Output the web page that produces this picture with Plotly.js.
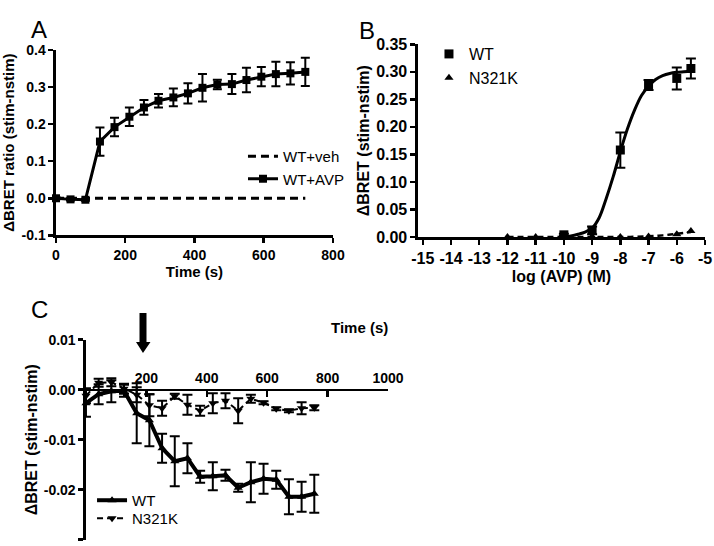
<!DOCTYPE html>
<html><head><meta charset="utf-8">
<script src="https://cdn.plot.ly/plotly-3.0.1.min.js"></script>
<style>html,body{margin:0;padding:0;background:#fff}#chart{width:714px;height:546px}</style>
</head><body><div id="chart"></div>
<script>
// ---------- Panel A ----------
const aTime = [0,42,85,127,169,212,254,296,339,381,423,466,508,550,593,635,677,720];
const aAvp = [0,-0.003,-0.004,0.153,0.192,0.220,0.245,0.263,0.272,0.283,0.298,0.307,0.308,0.319,0.328,0.335,0.337,0.341];
const aAvpErr = [0.003,0.003,0.003,0.038,0.025,0.025,0.020,0.018,0.024,0.027,0.037,0.013,0.027,0.033,0.026,0.033,0.030,0.038];
const aVeh = [0,0,0,0,0,0,0,0,0,0,0,0,0,0,0,0,0,0];
const aXTicks = [0,200,400,600,800];
const aXTickText = ['0','200','400','600','800'];
const aYTicks = [-0.1,0,0.1,0.2,0.3,0.4];
const aYTickText = ['-0.1','0.0','0.1','0.2','0.3','0.4'];

// ---------- Panel B ----------
const bWtX = [-10,-9,-8,-7,-6,-5.5];
const bWtY = [0.004,0.012,0.158,0.276,0.288,0.306];
const bWtErr = [0.002,0.007,0.032,0.009,0.020,0.018];
const bWtFitX = [-10,-9.75,-9.5,-9.25,-9,-8.75,-8.5,-8.25,-8,-7.75,-7.5,-7.25,-7,-6.75,-6.5,-6.25,-6,-5.75,-5.5];
const bWtFitY = [0.000,0.002,0.005,0.009,0.016,0.035,0.070,0.110,0.155,0.196,0.230,0.257,0.274,0.286,0.293,0.297,0.299,0.300,0.301];
const bMutX = [-12,-11,-10,-9,-8,-7,-6,-5.5];
const bMutY = [0,0,0,0.001,0,0.001,0.005,0.011];
const bMutFitX = [-12,-11,-10,-9,-8,-7,-6.5,-6,-5.5];
const bMutFitY = [0,0,0,0,0,0.0012,0.003,0.006,0.009];
const bXTicks = [-15,-14,-13,-12,-11,-10,-9,-8,-7,-6,-5];
const bXTickText = ['-15','-14','-13','-12','-11','-10','-9','-8','-7','-6','-5'];
const bYTicks = [0,0.05,0.10,0.15,0.20,0.25,0.30,0.35];
const bYTickText = ['0.00','0.05','0.10','0.15','0.20','0.25','0.30','0.35'];

// ---------- Panel C ----------
const cTime = [0,42,84,126,168,210,252,294,336,378,420,462,504,546,588,630,672,714,756];
const cWt = [-0.0027,-0.0009,-0.0003,-0.0002,-0.0047,-0.0061,-0.0117,-0.0143,-0.0137,-0.0174,-0.0173,-0.0171,-0.0196,-0.0185,-0.0178,-0.0180,-0.0214,-0.0214,-0.0208];
const cWtErr = [0.0027,0.0020,0.0022,0.0012,0.0060,0.0052,0.0029,0.0050,0.0030,0.0012,0.0028,0.0011,0.0008,0.0040,0.0030,0.0018,0.0035,0.0030,0.0038];
const cMut = [-0.0012,0.0014,0.0015,0.0002,-0.0010,-0.0031,-0.0037,-0.0013,-0.0030,-0.0042,-0.0027,-0.0022,-0.0042,-0.0018,-0.0026,-0.0038,-0.0042,-0.0037,-0.0036];
const cMutErr = [0.0015,0.0008,0.0008,0.0010,0.0015,0.0022,0.0015,0.0005,0.0020,0.0010,0.0020,0.0015,0.0025,0.0008,0.0003,0.0003,0.0003,0.0012,0.0005];
const cXTicks = [200,400,600,800,1000];
const cXTickText = ['200','400','600','800','1000'];
const cYTicks = [-0.03,-0.02,-0.01,0,0.01];
const cYTickText = ['-0.03','-0.02','-0.01','0.00','0.01'];

const FONT = 'Liberation Sans, Arial, sans-serif';
const K = '#000';

const traces = [
  // A
  {x:aTime, y:aVeh, xaxis:'x', yaxis:'y', name:'WT+veh', mode:'lines',
   line:{color:K, width:3, dash:'8px,5px'}, legend:'legend'},
  {x:aTime, y:aAvp, xaxis:'x', yaxis:'y', name:'WT+AVP', mode:'lines+markers',
   line:{color:K, width:3}, marker:{symbol:'square', size:8, color:K},
   error_y:{type:'data', array:aAvpErr, visible:true, color:K, thickness:2, width:4.5},
   legend:'legend', cliponaxis:false},
  // B
  {x:bWtFitX, y:bWtFitY, xaxis:'x2', yaxis:'y2', mode:'lines', line:{color:K, width:3, shape:'spline'},
   showlegend:false, cliponaxis:false},
  {x:bMutFitX, y:bMutFitY, xaxis:'x2', yaxis:'y2', mode:'lines', line:{color:K, width:2.5, dash:'6px,4px', shape:'spline'},
   showlegend:false, cliponaxis:false},
  {x:bWtX, y:bWtY, xaxis:'x2', yaxis:'y2', name:'WT', mode:'markers',
   marker:{symbol:'square', size:9, color:K},
   error_y:{type:'data', array:bWtErr, visible:true, color:K, thickness:2, width:5},
   legend:'legend2', cliponaxis:false},
  {x:bMutX, y:bMutY, xaxis:'x2', yaxis:'y2', name:'N321K', mode:'markers',
   marker:{symbol:'triangle-up', size:8, color:K}, legend:'legend2', cliponaxis:false},
  // C
  {x:cTime, y:cMut, xaxis:'x3', yaxis:'y3', name:'N321K', mode:'lines+markers',
   line:{color:K, width:2, dash:'6px,4px'}, marker:{symbol:'triangle-down', size:8, color:K},
   error_y:{type:'data', array:cMutErr, visible:true, color:K, thickness:2, width:5},
   legend:'legend4', cliponaxis:false},
  {x:cTime, y:cWt, xaxis:'x3', yaxis:'y3', name:'WT', mode:'lines+markers',
   line:{color:K, width:4}, marker:{symbol:'triangle-up', size:8, color:K},
   error_y:{type:'data', array:cWtErr, visible:true, color:K, thickness:2, width:5},
   legend:'legend3', cliponaxis:false}
];

const axBase = {showline:true, linecolor:K, linewidth:2.5, ticks:'outside', ticklen:5, tickwidth:2.5,
  tickcolor:K, showgrid:false, zeroline:false, tickmode:'array', fixedrange:true};
const tickFontA = {family:FONT, size:14, color:K, weight:'bold'};
const tickFontB = {family:FONT, size:16, color:K, weight:'bold'};
const tickFontC = {family:FONT, size:14, color:K, weight:'bold'};
const titleFont = (s)=>({family:FONT, size:s, color:K, weight:'bold'});

const layout = {
  width:714, height:546, margin:{l:0,r:0,t:0,b:0}, paper_bgcolor:'#fff', plot_bgcolor:'rgba(0,0,0,0)',
  font:{family:FONT, color:K},
  xaxis:Object.assign({}, axBase, {domain:[0.0784,0.4664], range:[0,800], anchor:'y',
     tickvals:aXTicks, ticktext:aXTickText, tickfont:tickFontA,
     title:{text:'Time (s)', font:titleFont(15), standoff:5}}),
  yaxis:Object.assign({}, axBase, {domain:[0.5690,0.9084], range:[-0.1,0.4], anchor:'x',
     tickvals:aYTicks, ticktext:aYTickText, tickfont:tickFontA,
     title:{text:'ΔBRET ratio (stim-nstim)', font:titleFont(15), standoff:11}}),
  xaxis2:Object.assign({}, axBase, {domain:[0.5854,0.9874], range:[-15.17,-5], anchor:'y2',
     tickvals:bXTicks, ticktext:bXTickText, tickfont:tickFontB,
     title:{text:'log (AVP) (M)', font:titleFont(16), standoff:5}}),
  yaxis2:Object.assign({}, axBase, {domain:[0.5659,0.9189], range:[0,0.35], anchor:'x2',
     tickvals:bYTicks, ticktext:bYTickText, tickfont:tickFontB,
     title:{text:'ΔBRET (stim-nstim)', font:titleFont(16), standoff:3}}),
  xaxis3:Object.assign({}, axBase, {domain:[0.1204,0.5434], range:[0,1000], anchor:'free', position:0.2863,
     side:'top', ticks:'inside', ticklen:6, tickvals:cXTicks, ticktext:cXTickText, tickfont:tickFontC}),
  yaxis3:Object.assign({}, axBase, {domain:[0.0115,0.3778], range:[-0.03,0.01], anchor:'x3',
     tickvals:cYTicks, ticktext:cYTickText, tickfont:tickFontC,
     title:{text:'ΔBRET (stim-nstim)', font:titleFont(16), standoff:2}}),
  legend:{x:0.3403, y:0.7436, xanchor:'left', yanchor:'top', bgcolor:'rgba(0,0,0,0)',
     font:{family:FONT, size:15, color:K}, tracegroupgap:0},
  legend2:{x:0.6008, y:0.9322, xanchor:'left', yanchor:'top', bgcolor:'rgba(0,0,0,0)',
     font:{family:FONT, size:16, color:K}},
  legend3:{x:0.1289, y:0.1136, xanchor:'left', yanchor:'top', bgcolor:'rgba(0,0,0,0)',
     font:{family:FONT, size:15, color:K}},
  legend4:{x:0.1289, y:0.0806, xanchor:'left', yanchor:'top', bgcolor:'rgba(0,0,0,0)',
     font:{family:FONT, size:15, color:K}},
  annotations:[
    {text:'A', xref:'paper', yref:'paper', x:0.0406, y:0.9744, showarrow:false, font:{family:FONT, size:24, color:K}},
    {text:'B', xref:'paper', yref:'paper', x:0.5147, y:0.9734, showarrow:false, font:{family:FONT, size:24, color:K}},
    {text:'C', xref:'paper', yref:'paper', x:0.0413, y:0.4332, showarrow:false, font:{family:FONT, size:24, color:K}},
    {text:'Time (s)', xref:'paper', yref:'paper', x:0.5042, y:0.3993, showarrow:false, font:titleFont(15)}
  ],
  shapes:[
    {type:'path', xref:'paper', yref:'paper', fillcolor:K, line:{width:0},
     path:'M 0.19538,0.42674 L 0.20518,0.42674 L 0.20518,0.37363 L 0.21078,0.37363 L 0.20028,0.35348 L 0.19048,0.37363 L 0.19538,0.37363 Z'}
  ]
};

Plotly.newPlot('chart', traces, layout, {staticPlot:true, displayModeBar:false});
</script></body></html>
